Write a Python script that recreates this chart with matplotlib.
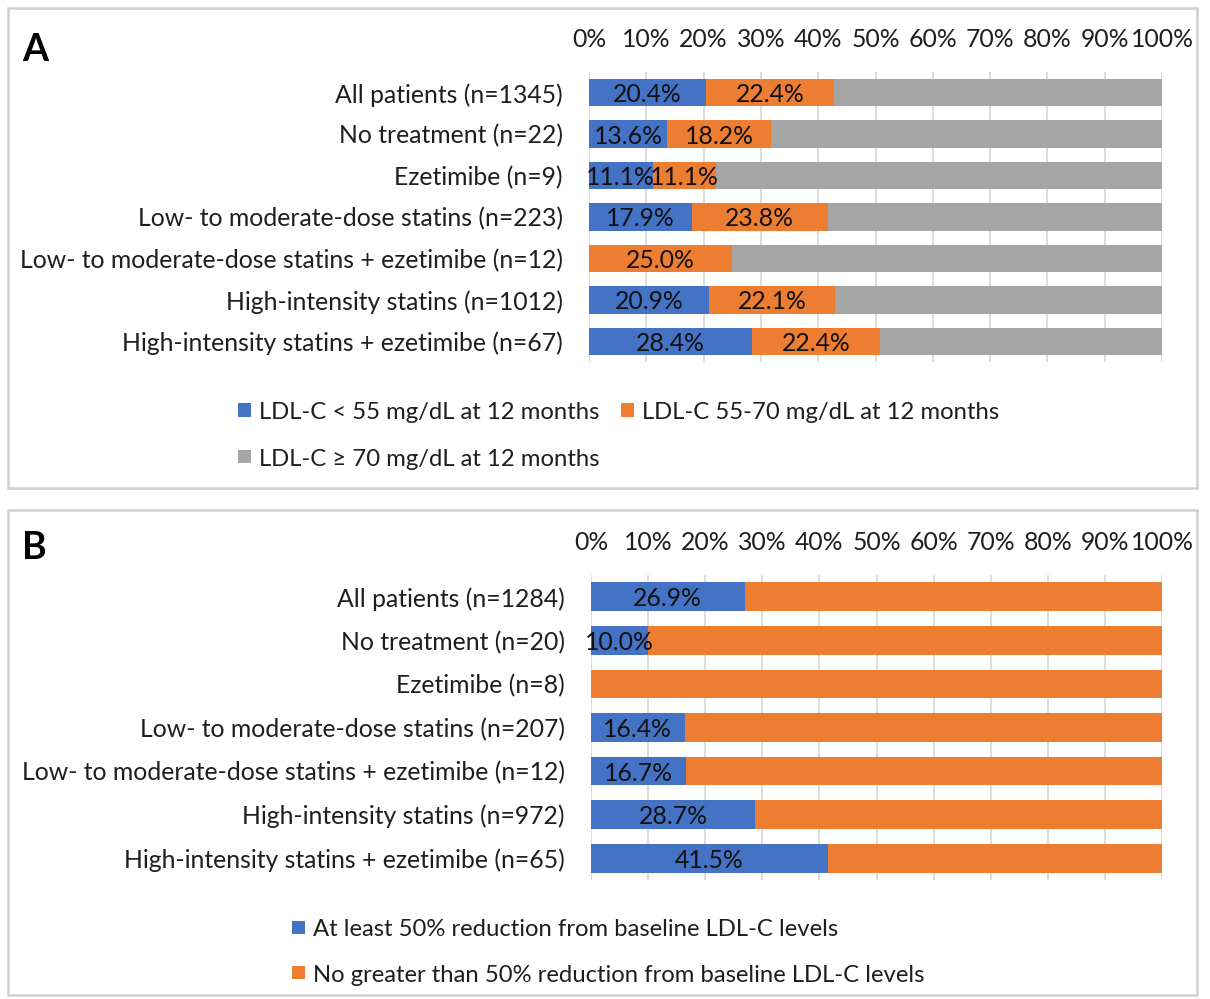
import matplotlib
matplotlib.use("Agg")
import matplotlib.pyplot as plt
from matplotlib.patches import Rectangle

plt.rcParams["font.family"] = ["Lato", "DejaVu Sans"]

# ---- data -------------------------------------------------------------
cats_a = [
    "All patients (n=1345)",
    "No treatment (n=22)",
    "Ezetimibe (n=9)",
    "Low- to moderate-dose statins (n=223)",
    "Low- to moderate-dose statins + ezetimibe (n=12)",
    "High-intensity statins (n=1012)",
    "High-intensity statins + ezetimibe (n=67)",
]
ldl_lt55 = [20.4, 13.6, 11.1, 17.9, 0.0, 20.9, 28.4]
ldl_55_70 = [22.4, 18.2, 11.1, 23.8, 25.0, 22.1, 22.4]
ldl_ge70 = [57.2, 68.2, 77.8, 58.3, 75.0, 57.0, 49.2]
legend_a = [
    "LDL-C < 55 mg/dL at 12 months",
    "LDL-C 55-70 mg/dL at 12 months",
    "LDL-C \u2265 70 mg/dL at 12 months",
]

cats_b = [
    "All patients (n=1284)",
    "No treatment (n=20)",
    "Ezetimibe (n=8)",
    "Low- to moderate-dose statins (n=207)",
    "Low- to moderate-dose statins + ezetimibe (n=12)",
    "High-intensity statins (n=972)",
    "High-intensity statins + ezetimibe (n=65)",
]
red_ge50 = [26.9, 10.0, 0.0, 16.4, 16.7, 28.7, 41.5]
red_lt50 = [73.1, 90.0, 100.0, 83.6, 83.3, 71.3, 58.5]
legend_b = [
    "At least 50% reduction from baseline LDL-C levels",
    "No greater than 50% reduction from baseline LDL-C levels",
]

pct_ticks = [0, 10, 20, 30, 40, 50, 60, 70, 80, 90, 100]
pct_labels = ["0%", "10%", "20%", "30%", "40%", "50%", "60%", "70%", "80%", "90%", "100%"]

# ---- style -------------------------------------------------------------
BLUE, ORANGE, GRAY = "#4472C4", "#ED7D31", "#A5A5A5"
GRID = "#D9D9D9"
TXT = "#1E1E1E"
FS = 17.8
FS_LEG = 17.2
W, H = 1210, 999

fig = plt.figure(figsize=(W / 100, H / 100), dpi=100)


def px_axes(l, t, r, b):
    return fig.add_axes([l / W, 1 - b / H, (r - l) / W, (b - t) / H])


def panel_box(t, b):
    fig.patches.append(Rectangle((8 / W, 1 - b / H), (1197 - 8) / W, (b - t) / H,
                                 transform=fig.transFigure, fill=False,
                                 edgecolor="#D0D0D0", linewidth=1.8))


def legend_entry(x, y, color, text):
    s = 13
    fig.patches.append(Rectangle((x / W, 1 - (y + s / 2) / H), s / W, s / H,
                                 transform=fig.transFigure, facecolor=color,
                                 edgecolor="none"))
    fig.text((x + s + 8) / W, 1 - (y + 1) / H, text, fontsize=FS_LEG,
             va="center_baseline", ha="left", color=TXT)


def stacked(ax, cats, series, colors, labelled):
    y = list(range(len(cats)))
    left = [0.0] * len(cats)
    for vals, col, lab in zip(series, colors, labelled):
        bars = ax.barh(y, vals, left=left, height=0.66, color=col, zorder=2)
        if lab:
            for bar, v in zip(bars, vals):
                if v > 0:
                    ax.text(bar.get_x() + bar.get_width() / 2,
                            bar.get_y() + bar.get_height() / 2,
                            f"{v:.1f}%", ha="center", va="center_baseline",
                            fontsize=FS, color="#111111", zorder=3)
        left = [a + b for a, b in zip(left, vals)]
    ax.set_ylim(len(cats) - 0.5, -0.5)
    ax.set_xlim(0, 100)
    ax.set_yticks(y)
    ax.set_yticklabels(cats, fontsize=FS, color=TXT)
    ax.set_xticks(pct_ticks)
    ax.set_xticklabels(pct_labels, fontsize=FS, color=TXT)
    ax.xaxis.set_ticks_position("top")
    ax.tick_params(axis="x", length=0, pad=15)
    ax.tick_params(axis="y", length=0, pad=19)
    ax.grid(axis="x", color=GRID, linewidth=1.3, zorder=0)
    ax.set_axisbelow(True)
    for sp in ax.spines.values():
        sp.set_visible(False)


# ---- panel A -----------------------------------------------------------
panel_box(8, 488)
ax_a = px_axes(589, 72, 1162, 362)
stacked(ax_a, cats_a, [ldl_lt55, ldl_55_70, ldl_ge70], [BLUE, ORANGE, GRAY],
        [True, True, False])
fig.text(22 / W, 1 - 50 / H, "A", fontsize=27, fontweight="bold", va="center")
legend_entry(238, 410, BLUE, legend_a[0])
legend_entry(621, 410, ORANGE, legend_a[1])
legend_entry(238, 456, GRAY, legend_a[2])

# ---- panel B -----------------------------------------------------------
panel_box(510, 995)
ax_b = px_axes(591, 575, 1162, 880)
stacked(ax_b, cats_b, [red_ge50, red_lt50], [BLUE, ORANGE], [True, False])
fig.text(22 / W, 1 - 548 / H, "B", fontsize=27, fontweight="bold", va="center")
legend_entry(292, 927, BLUE, legend_b[0])
legend_entry(292, 972, ORANGE, legend_b[1])

fig.savefig("out.png", dpi=100, facecolor="white")
